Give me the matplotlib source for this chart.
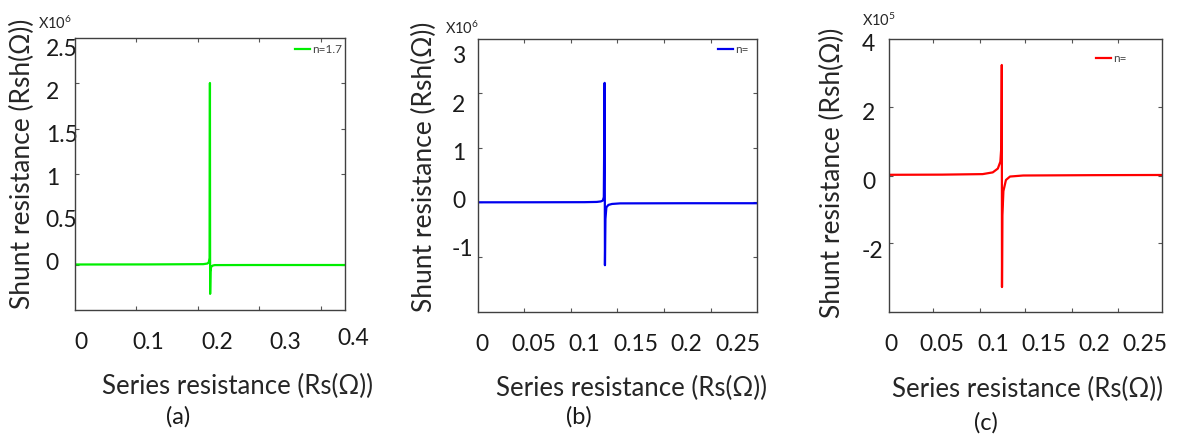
import numpy as np
import matplotlib
matplotlib.use("Agg")
import matplotlib.pyplot as plt
from matplotlib.ticker import FixedLocator, FuncFormatter

plt.rcParams["font.family"] = ["Lato", "DejaVu Sans"]
plt.rcParams["axes.unicode_minus"] = False
plt.rcParams["mathtext.default"] = "regular"

# ---- data (Rs in ohm, Rsh in ohm) ----
rs_a = [-0.01, 0.10, 0.18, 0.186, 0.188, 0.1893, 0.1898, 0.1901, 0.1906,
        0.1915, 0.194, 0.197, 0.25, 0.39]
rsh_a = [-0.036e6, -0.035e6, -0.032e6, -0.025e6, -0.012e6, 0.04e6, 2.09e6, -0.38e6, -0.12e6,
         -0.065e6, -0.048e6, -0.043e6, -0.042e6, -0.042e6]

rs_b = [-0.005, 0.05, 0.10, 0.112, 0.116, 0.118, 0.119, 0.1198, 0.1201, 0.1206,
        0.1215, 0.1235, 0.127, 0.135, 0.20, 0.27]
rsh_b = [-0.056e6, -0.055e6, -0.053e6, -0.048e6, -0.038e6, -0.020e6, 0.05e6, 2.42e6, -1.36e6, -0.40e6,
         -0.16e6, -0.11e6, -0.09e6, -0.078e6, -0.075e6, -0.075e6]

rs_c = [-0.005, 0.05, 0.09, 0.100, 0.105, 0.1075, 0.1085, 0.1089, 0.1091, 0.1095,
        0.1105, 0.113, 0.117, 0.13, 0.20, 0.27]
rsh_c = [0.17e5, 0.175e5, 0.19e5, 0.24e5, 0.35e5, 0.55e5, 1.0e5, 3.34e5, -3.07e5, -1.0e5,
         -0.3e5, 0.02e5, 0.12e5, 0.15e5, 0.16e5, 0.165e5]

xticks_a = [0, 0.1, 0.2, 0.3, 0.4]
yticks_a = [0, 0.5e6, 1e6, 1.5e6, 2e6, 2.5e6]
xticks_bc = [0, 0.05, 0.1, 0.15, 0.2, 0.25]
yticks_b = [-1e6, 0, 1e6, 2e6, 3e6]
yticks_c = [-2e5, 0, 2e5, 4e5]

# small tick marks of the original frame (they do not sit under the labels)
xmarks_a = [0.081, 0.172, 0.262, 0.353]
ymarks_a = [-0.04e6, 0.50e6, 1.02e6, 1.55e6, 2.09e6]
xmarks_bc = [0.041, 0.087, 0.132, 0.178, 0.224]
ymarks_b = [-1.19e6, -0.05e6, 1.07e6, 2.21e6]
ymarks_c = [-1.8e5, 0.13e5, 2.12e5]

panels = [
    dict(rs=rs_a, rsh=rsh_a, color="#00ee00", label="n=1.7", scale=1e6, exp="6",
         xlim=(-0.0082, 0.388), ylim=(-0.569e6, 2.617e6),
         xt=xticks_a, yt=yticks_a, xm=xmarks_a, ym=ymarks_a,
         rect=[75, 38, 345, 310], ypad=21, leg=(0.815, 0.956),
         ylab=(22, 164), xlab=(238, 386), tag=("(a)", 178, 417), off=(38, 23)),
    dict(rs=rs_b, rsh=rsh_b, color="#0000ee", label="n=", scale=1e6, exp="6",
         xlim=(-0.0042, 0.269), ylim=(-2.33e6, 3.33e6),
         xt=xticks_bc, yt=yticks_b, xm=xmarks_bc, ym=ymarks_b,
         rect=[478, 39, 757, 312], ypad=18.7, leg=(0.86, 0.96),
         ylab=(424, 167), xlab=(632, 388), tag=("(b)", 579, 417), off=(445, 28)),
    dict(rs=rs_c, rsh=rsh_c, color="#ff0000", label="n=", scale=1e5, exp="5",
         xlim=(-0.0024, 0.267), ylim=(-3.79e5, 4.09e5),
         xt=xticks_bc, yt=yticks_c, xm=xmarks_bc, ym=ymarks_c,
         rect=[889, 39, 1162, 312], ypad=19.4, leg=(0.758, 0.927),
         ylab=(832, 173), xlab=(1028, 389), tag=("(c)", 986, 423), off=(862, 20)),
]

W, H = 1183, 440
fig = plt.figure(figsize=(W / 100, H / 100), dpi=100)
tick_fs = 16.5

for p in panels:
    l, t, r, b = p["rect"]
    ax = fig.add_axes([l / W, 1 - b / H, (r - l) / W, (b - t) / H])
    ax.plot(p["rs"], p["rsh"], color=p["color"], lw=1.6, label=p["label"])
    ax.set_xlim(*p["xlim"])
    ax.set_ylim(*p["ylim"])

    sc = p["scale"]
    lo, hi = p["xlim"]
    inside = [v for v in p["xt"] if lo <= v <= hi]
    outside = [v for v in p["xt"] if not lo <= v <= hi]
    ax.xaxis.set_major_locator(FixedLocator(inside))
    ax.yaxis.set_major_locator(FixedLocator(p["yt"]))
    ax.xaxis.set_major_formatter(FuncFormatter(lambda v, pos: "%g" % v))
    ax.yaxis.set_major_formatter(FuncFormatter(lambda v, pos, sc=sc: "%g" % (v / sc)))
    ax.xaxis.set_minor_locator(FixedLocator(p["xm"]))
    ax.yaxis.set_minor_locator(FixedLocator(p["ym"]))
    ax.tick_params(which="major", length=0, labelsize=tick_fs, labelcolor="#1a1a1a")
    ax.tick_params(axis="x", which="major", pad=16)
    ax.tick_params(axis="y", which="major", pad=p["ypad"])
    for lab in ax.get_yticklabels():
        lab.set_horizontalalignment("left")
    ax.tick_params(which="minor", direction="in", length=3, width=0.8,
                   color="#555555", top=True, right=True)
    for s in ax.spines.values():
        s.set_color("#404040")
        s.set_linewidth(1.0)
    # tick labels that the original put past the right end of the frame
    for v in outside:
        ax.text(v, -28 / (b - t), "%g" % v, transform=ax.get_xaxis_transform(),
                ha="center", va="center", fontsize=tick_fs, color="#1a1a1a", clip_on=False)

    ax.legend(loc="center left", bbox_to_anchor=p["leg"], frameon=False,
              fontsize=8.5, handlelength=1.3, handletextpad=0.15,
              borderpad=0, borderaxespad=0, labelcolor="#444444")

    fig.text(p["ylab"][0] / W, 1 - p["ylab"][1] / H, "Shunt resistance (Rsh(\u03a9))",
             rotation=90, ha="center", va="center", fontsize=19, color="#262626")
    fig.text(p["xlab"][0] / W, 1 - p["xlab"][1] / H, "Series resistance (Rs(\u03a9))",
             ha="center", va="center", fontsize=18.5, color="#262626")
    fig.text(p["tag"][1] / W, 1 - p["tag"][2] / H, p["tag"][0],
             ha="center", va="center", fontsize=17, color="#1a1a1a")
    fig.text(p["off"][0] / W, 1 - p["off"][1] / H, "X10$^{%s}$" % p["exp"],
             ha="left", va="center", fontsize=10.5, color="#262626")

fig.savefig("out.png", dpi=100)
